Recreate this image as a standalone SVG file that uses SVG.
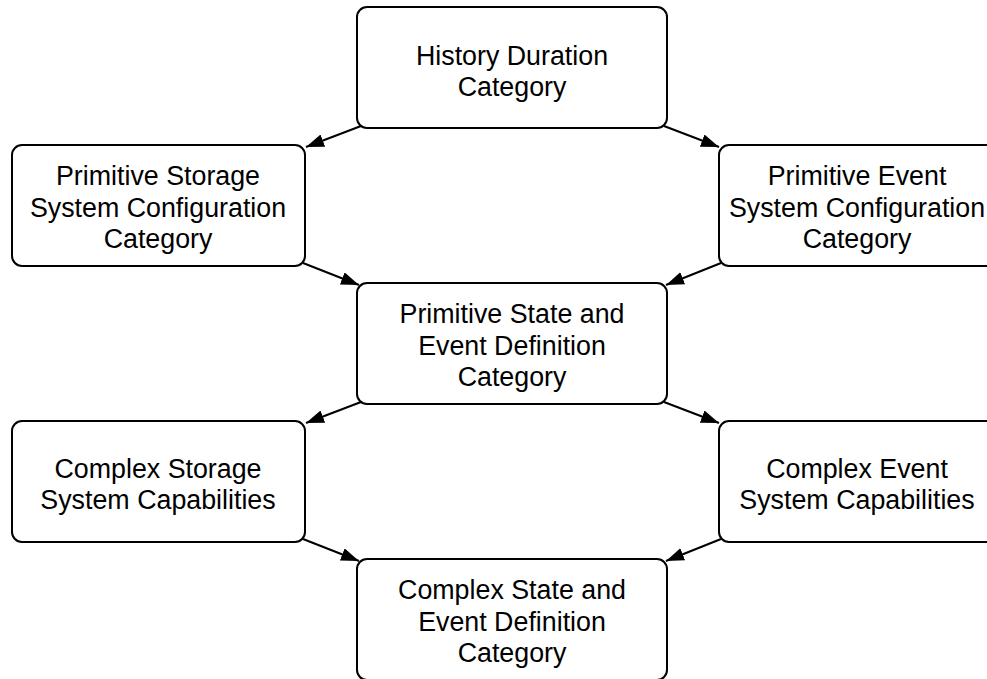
<svg xmlns="http://www.w3.org/2000/svg" width="987" height="679" viewBox="0 0 987 679">
<style>
.box{fill:#fff;stroke:#000;stroke-width:2}
.t{font-family:"Liberation Sans",Arial,Helvetica,sans-serif;font-size:26.8px;fill:#000;text-anchor:middle}
.c{stroke:#000;stroke-width:2;fill:none;marker-end:url(#ah)}
</style>
<defs>
<marker id="ah" markerUnits="userSpaceOnUse" markerWidth="20" markerHeight="14" refX="18" refY="6.5" orient="auto">
<path d="M0,0 L18,6.5 L0,13 z" fill="#000"/>
</marker>
</defs>
<rect width="987" height="679" fill="#fff"/>
<g id="connectors">
<line class="c" x1="361" y1="126" x2="306" y2="147"/>
<line class="c" x1="664" y1="126" x2="719" y2="147"/>
<line class="c" x1="303" y1="263" x2="359" y2="285"/>
<line class="c" x1="721" y1="263" x2="666" y2="285"/>
<line class="c" x1="361" y1="402" x2="306" y2="423"/>
<line class="c" x1="664" y1="402" x2="719" y2="423"/>
<line class="c" x1="303" y1="539" x2="359" y2="561"/>
<line class="c" x1="721" y1="539" x2="666" y2="561"/>
</g>
<g id="history">
<rect class="box" x="357" y="7" width="310" height="121" rx="10"/>
<text class="t" x="512" y="65">History Duration</text>
<text class="t" x="512" y="96">Category</text>
</g>
<g id="prim-storage">
<rect class="box" x="12" y="145" width="293" height="121" rx="10"/>
<text class="t" x="158" y="185">Primitive Storage</text>
<text class="t" x="158" y="217">System Configuration</text>
<text class="t" x="158" y="248">Category</text>
</g>
<g id="prim-event">
<rect class="box" x="719" y="145" width="293" height="121" rx="10"/>
<text class="t" x="857" y="185">Primitive Event</text>
<text class="t" x="857" y="217">System Configuration</text>
<text class="t" x="857" y="248">Category</text>
</g>
<g id="prim-state">
<rect class="box" x="357" y="283" width="310" height="121" rx="10"/>
<text class="t" x="512" y="323">Primitive State and</text>
<text class="t" x="512" y="355">Event Definition</text>
<text class="t" x="512" y="386">Category</text>
</g>
<g id="complex-storage">
<rect class="box" x="12" y="421" width="293" height="121" rx="10"/>
<text class="t" x="158" y="478">Complex Storage</text>
<text class="t" x="158" y="509">System Capabilities</text>
</g>
<g id="complex-event">
<rect class="box" x="719" y="421" width="293" height="121" rx="10"/>
<text class="t" x="857" y="478">Complex Event</text>
<text class="t" x="857" y="509">System Capabilities</text>
</g>
<g id="complex-state">
<rect class="box" x="357" y="559" width="310" height="121" rx="10"/>
<text class="t" x="512" y="599">Complex State and</text>
<text class="t" x="512" y="631">Event Definition</text>
<text class="t" x="512" y="662">Category</text>
</g>
</svg>
